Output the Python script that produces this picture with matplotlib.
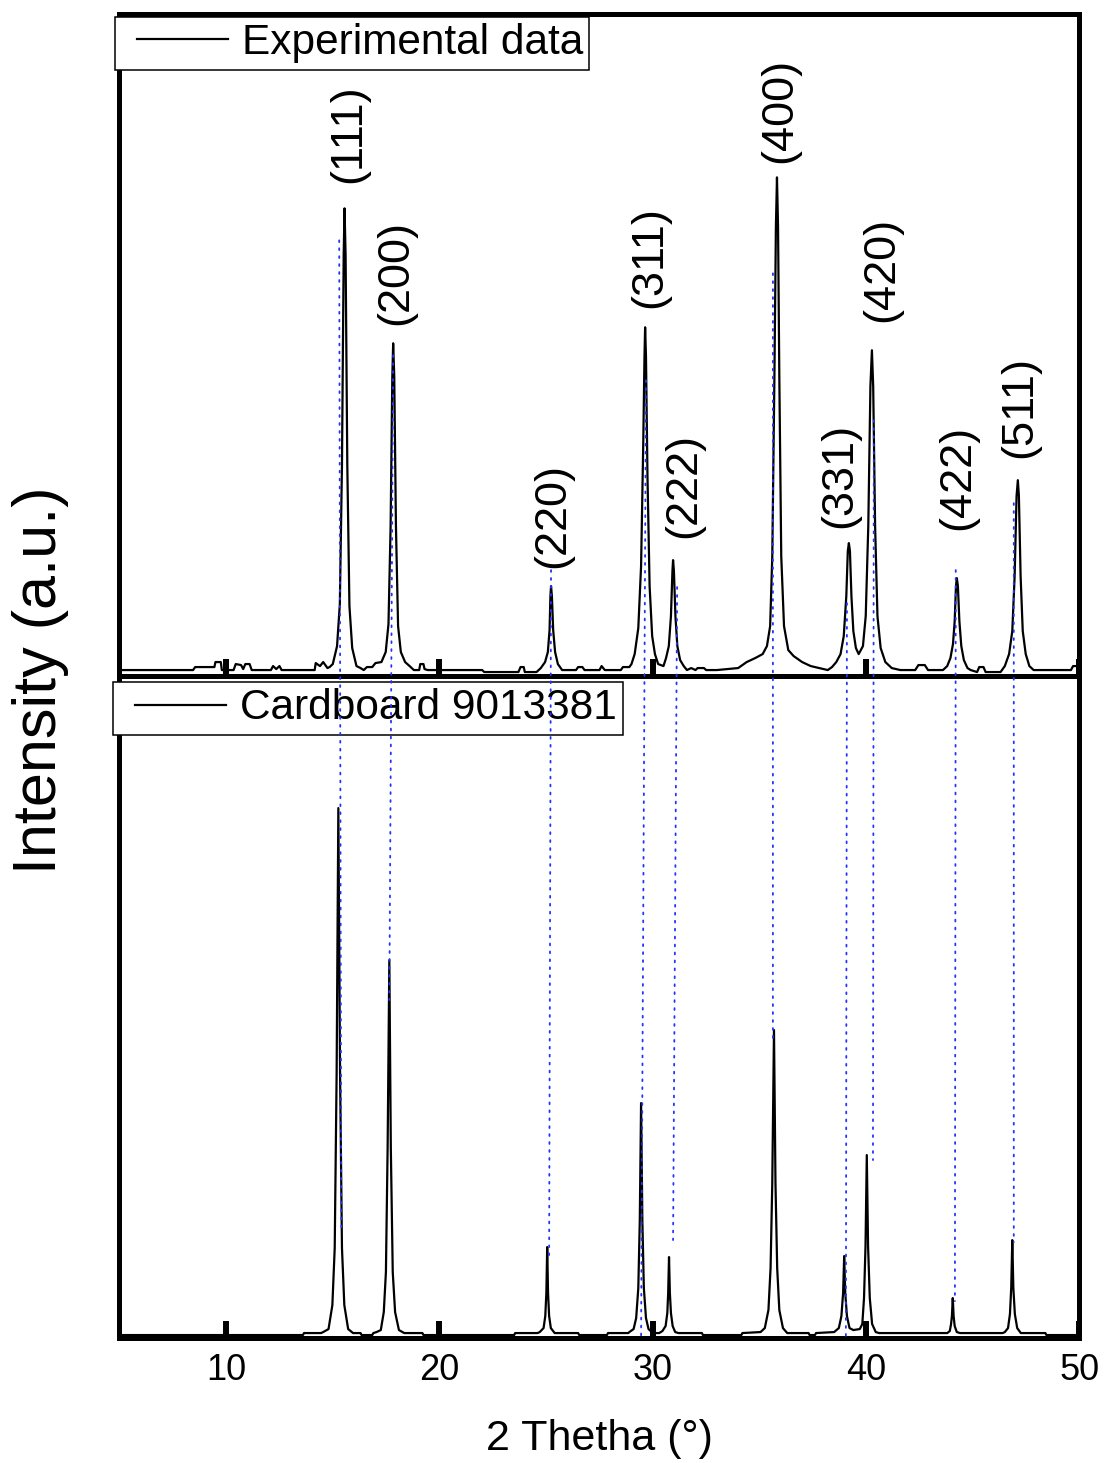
import matplotlib
matplotlib.use("Agg")
import matplotlib.pyplot as plt
from matplotlib.patches import ConnectionPatch
from matplotlib.legend_handler import HandlerLine2D

# measured pattern (2theta in degrees, intensity in arbitrary units)
exp_2theta = [5.0, 8.45, 8.55, 9.45, 9.5, 9.75, 9.8, 10.35, 10.45, 10.7, 10.8, 10.9, 11.1, 11.2,
              12.1, 12.2, 12.35, 12.5, 12.6, 14.15, 14.2, 14.4, 14.55, 14.75, 14.85,
              15.00, 15.20, 15.33, 15.43, 15.51, 15.55, 15.60, 15.68, 15.78, 15.91, 16.11,
              16.3, 16.45, 16.6, 16.85, 17.0, 17.28,
              17.48, 17.61, 17.71, 17.79, 17.83, 17.88, 17.96, 18.06, 18.19, 18.39,
              18.6, 18.8, 19.05, 19.1, 19.25, 19.3, 19.45, 22.0, 22.1, 23.7, 23.8, 23.95, 24.0, 24.55,
              24.75, 24.95, 25.08, 25.16, 25.20, 25.23, 25.27, 25.33, 25.42, 25.55, 25.75,
              26.4, 26.5, 26.7, 26.8, 27.5, 27.6, 27.75, 28.5, 28.6, 28.9, 29.0,
              29.15, 29.32, 29.45, 29.55, 29.61, 29.64, 29.68, 29.75, 29.85, 29.97, 30.1, 30.25, 30.5,
              30.62, 30.75, 30.85, 30.92, 30.95, 30.99, 31.06, 31.15, 31.28, 31.45,
              31.6, 31.8, 32.0, 32.1, 32.4, 32.5, 33.0, 34.0, 34.4, 34.8, 35.15, 35.35,
              35.5, 35.6, 35.7, 35.77, 35.82, 35.87, 35.93, 36.02, 36.15, 36.35, 36.6, 37.0, 37.4,
              37.8, 38.2, 38.4,
              38.6, 38.8, 38.95, 39.07, 39.14, 39.19, 39.24, 39.31, 39.4, 39.52, 39.65,
              39.85, 39.98, 40.10, 40.20, 40.27, 40.33, 40.42, 40.53, 40.68, 40.9, 41.2,
              41.6, 42.3, 42.45, 42.75, 42.9, 43.6,
              43.8, 43.95, 44.07, 44.15, 44.21, 44.25, 44.30, 44.37, 44.46, 44.58, 44.75,
              44.9, 45.2, 45.3, 45.5, 45.6, 46.3,
              46.5, 46.7, 46.85, 46.96, 47.05, 47.11, 47.16, 47.24, 47.34, 47.48, 47.65,
              47.85, 49.6, 49.7, 50.0]
exp_intensity = [6, 6, 9, 9, 14, 14, 6, 6, 12, 11, 7, 12, 12, 6,
                 6, 10, 7, 10, 6, 6, 13, 10, 14, 8, 9,
                 12, 30, 72, 211, 421, 468, 421, 211, 70, 28, 10,
                 8, 6, 9, 9, 13, 14,
                 24, 52, 150, 300, 333, 300, 150, 50, 24, 14,
                 10, 6, 6, 12, 12, 7, 6, 6, 4, 4, 9, 9, 4, 4,
                 8, 14, 24, 46, 80, 90, 80, 46, 24, 12, 6,
                 6, 9, 9, 6, 6, 10, 6, 6, 9, 9, 12,
                 22, 48, 110, 230, 320, 349, 320, 200, 90, 40, 22, 12, 10,
                 18, 30, 60, 105, 116, 105, 60, 30, 16, 10,
                 6, 8, 6, 8, 8, 6, 6, 8, 14, 18, 22, 30,
                 50, 120, 300, 450, 499, 450, 300, 120, 50, 26, 20, 14, 10,
                 8, 6, 9,
                 14, 22, 40, 80, 125, 133, 125, 80, 45, 28, 22,
                 30, 60, 150, 290, 326, 290, 150, 60, 28, 14, 8,
                 6, 6, 11, 11, 6, 6,
                 10, 18, 32, 55, 90, 98, 90, 55, 30, 16, 8,
                 6, 4, 9, 9, 4, 4,
                 10, 22, 45, 100, 180, 196, 180, 100, 45, 22, 10,
                 6, 6, 10, 10]

# reference card pattern
ref_2theta = [5.0, 13.6, 13.65, 14.45,
              14.55, 14.8, 14.98, 15.09, 15.18, 15.26, 15.34, 15.43, 15.54, 15.72, 15.95,
              16.3, 16.35, 16.85, 16.9,
              17.05, 17.25, 17.39, 17.49, 17.57, 17.65, 17.72, 17.81, 17.92, 18.1, 18.35,
              19.2, 19.25, 23.5, 23.55, 24.6,
              24.7, 24.88, 24.96, 25.01, 25.05, 25.09, 25.14, 25.22, 25.4,
              26.5, 26.55, 27.85, 27.9, 28.85,
              28.9, 29.1, 29.22, 29.32, 29.39, 29.45, 29.51, 29.58, 29.68, 29.8, 30.0, 30.3,
              30.45, 30.6, 30.68, 30.72, 30.76, 30.8, 30.85, 30.93, 31.05, 31.2,
              32.3, 32.35, 34.15, 34.2,
              35.05, 35.25, 35.42, 35.52, 35.6, 35.68, 35.75, 35.83, 35.93, 36.1, 36.3,
              37.3, 37.35, 37.6, 37.65,
              38.5, 38.72, 38.84, 38.92, 38.97, 39.02, 39.1, 39.22, 39.4,
              39.7, 39.82, 39.9, 39.97, 40.03, 40.09, 40.17, 40.28, 40.45, 40.6,
              43.8, 43.92, 43.98, 44.02, 44.06, 44.1, 44.15, 44.25, 44.4,
              46.4, 46.5, 46.65, 46.74, 46.8, 46.85, 46.9, 46.97, 47.08, 47.25,
              48.4, 48.45, 50.0]
ref_intensity = [3, 3, 5, 5,
                 6, 9, 33, 90, 265, 530, 265, 90, 33, 9, 5,
                 5, 3, 3, 5,
                 6, 8, 26, 66, 190, 378, 190, 66, 26, 8, 5,
                 5, 3, 3, 5, 5,
                 6, 10, 22, 45, 91, 45, 22, 10, 5,
                 5, 3, 3, 5, 5,
                 6, 9, 20, 50, 118, 235, 118, 50, 20, 9, 5, 5,
                 7, 12, 25, 45, 81, 45, 25, 12, 6, 5,
                 5, 3, 3, 5,
                 6, 10, 28, 70, 155, 308, 155, 70, 28, 10, 5,
                 5, 3, 3, 5,
                 6, 10, 22, 45, 82, 45, 22, 10, 8,
                 9, 14, 40, 92, 183, 92, 40, 14, 6, 5,
                 5, 7, 14, 22, 40, 22, 12, 6, 5,
                 5, 6, 10, 24, 50, 98, 50, 24, 10, 5,
                 5, 3, 3]

# Miller index labels above the experimental peaks
peak_labels = ["(111)", "(200)", "(220)", "(311)", "(222)",
               "(400)", "(331)", "(420)", "(422)", "(511)"]
label_x = [15.73, 17.97, 25.33, 29.87, 31.46, 35.96, 38.77, 40.74, 44.30, 47.20]
label_y = [493, 351, 108, 368, 138, 513, 148, 354, 146, 218]

# dotted guides from the experimental peaks down to the card peaks
guide_top_x = [15.30, 17.83, 25.23, 29.68, 31.14, 35.63, 39.10, 40.36, 44.20, 46.92]
guide_top_y = [436, 321, 106, 296, 89, 403, 73, 256, 106, 173]
guide_bot_x = [15.40, 17.65, 25.14, 29.45, 30.95, 35.63, 39.05, 40.32, 44.16, 46.92]
guide_bot_y = [110, 338, 83, 0, 98, 298, 0, 178, 37, 96]

x_ticks = [10, 20, 30, 40, 50]

plt.rcParams["font.family"] = ["Liberation Sans", "DejaVu Sans"]

fig = plt.figure(figsize=(11.04, 14.63), dpi=100)
ax_top = fig.add_axes([0.1082, 0.5379, 0.8696, 0.4522])
ax_bot = fig.add_axes([0.1082, 0.0854, 0.8696, 0.4525])

ax_top.plot(exp_2theta, exp_intensity, color="black", lw=1.6, label="Experimental data")
ax_bot.plot(ref_2theta, ref_intensity, color="black", lw=1.6, label="Cardboard 9013381")

for ax in (ax_top, ax_bot):
    ax.set_xlim(5, 50)
    ax.set_ylim(0, 662)
    ax.set_yticks([])
    ax.set_xticks(x_ticks)
    ax.tick_params(axis="x", direction="in", length=12, width=4.3, labelsize=26, pad=11)
    for sp in ax.spines.values():
        sp.set_linewidth(3.6)
ax_top.tick_params(labelbottom=False)

for txt, x, y in zip(peak_labels, label_x, label_y):
    ax_top.text(x, y, txt, rotation=90, ha="center", va="bottom", fontsize=32.5)

# legend line is inset from the box edge, like the original
legend_style = dict(loc="upper left", bbox_transform=fig.transFigure, fontsize=30.5,
                    fancybox=False, edgecolor="black", framealpha=1, handlelength=2.51,
                    handletextpad=0.33, borderpad=0.15, borderaxespad=0,
                    handler_map={matplotlib.lines.Line2D: HandlerLine2D(xpad=0.37)})
leg1 = ax_top.legend(bbox_to_anchor=(0.1042, 0.9884), **legend_style)
leg2 = ax_bot.legend(bbox_to_anchor=(0.1024, 0.5338), **legend_style)
for leg in (leg1, leg2):
    leg.get_frame().set_linewidth(1.1)

for xa, ya, xb, yb in zip(guide_top_x, guide_top_y, guide_bot_x, guide_bot_y):
    con = ConnectionPatch(xyA=(xa, ya), coordsA=ax_top.transData,
                          xyB=(xb, yb), coordsB=ax_bot.transData,
                          color="#2233ff", lw=1.3, linestyle=(0, (1, 3.4)))
    fig.add_artist(con)

ax_bot.set_xlabel("2 Thetha (\u00b0)", fontsize=31, labelpad=22)
fig.text(0.037, 0.535, "Intensity (a.u.)", rotation=90, ha="center", va="center", fontsize=44)

fig.savefig("out.png", dpi=100)
